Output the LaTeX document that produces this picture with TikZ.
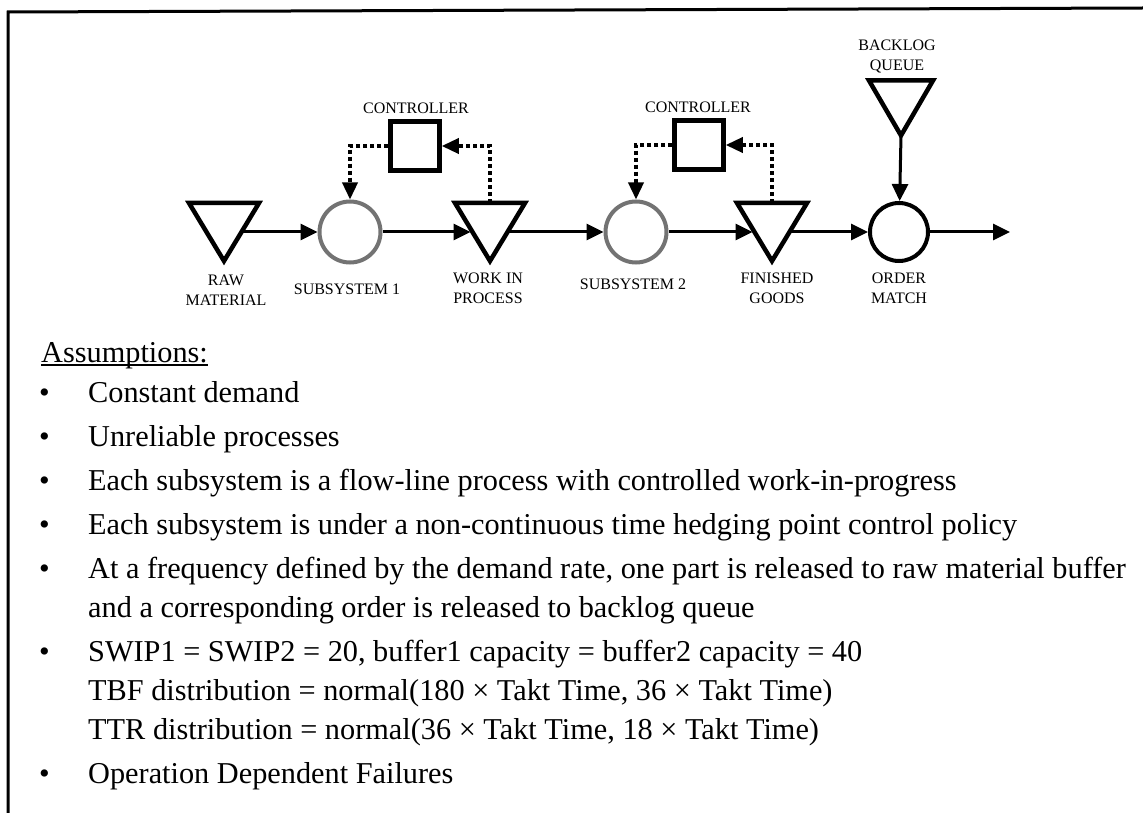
\documentclass[tikz,border=0pt]{standalone}
\usepackage{fontspec}
\setmainfont{Liberation Serif}
\usetikzlibrary{arrows.meta,calc}

\begin{document}
\begin{tikzpicture}[x=1pt,y=-1pt,
  buffer/.style={rectangle, minimum width=70pt, minimum height=58pt, inner sep=0pt, outer sep=0pt},
  tri/.style={line width=4.5pt, line join=miter},
  station/.style={circle, draw=black!55, line width=4pt, minimum size=61pt, inner sep=0pt},
  matcher/.style={circle, draw=black, line width=4pt, minimum size=58pt, inner sep=0pt},
  ctlbox/.style={rectangle, draw, line width=4.5pt, minimum size=49pt, inner sep=0pt},
  flow/.style={line width=3pt, -{Triangle[length=17pt,width=16pt]}},
  signal/.style={line width=3.5pt, dash pattern=on 4pt off 3pt, -{Triangle[length=17pt,width=15pt]}},
  tag/.style={font=\fontsize{16}{20}\selectfont, align=center, inner sep=0pt},
  body/.style={font=\fontsize{30.3}{36}\selectfont, anchor=base west, inner sep=0pt},
]
\useasboundingbox (0,0) rectangle (1143,813);

% frame
\draw[line width=3pt] (8,813) -- (8,12) -- (1143,8);

% buffers (downward triangles)
\node[buffer] (raw) at (224,232) {};
\node[buffer] (wip) at (490,232) {};
\node[buffer] (fg)  at (772,232) {};
\node[buffer, minimum width=64pt, minimum height=55pt] (bq) at (901,108) {};
\foreach \b in {raw,wip,fg,bq}
  \draw[tri] (\b.north west) -- (\b.north east) -- (\b.south) -- cycle;

% stations and controllers
\node[station] (sub1) at (350,232) {};
\node[station] (sub2) at (636,232) {};
\node[matcher] (om)   at (899,232) {};
\node[ctlbox]  (ctl1) at (415,146) {};
\node[ctlbox]  (ctl2) at (699,145) {};
\coordinate (out) at (1010,232);

% material flow
\draw[flow] ($(raw.north east)!.5!(raw.south)$) -- (sub1);
\draw[flow, shorten >=2pt] (sub1) -- ($(wip.north west)!.5!(wip.south)$);
\draw[flow] ($(wip.north east)!.5!(wip.south)$) -- (sub2);
\draw[flow, shorten >=2pt] (sub2) -- ($(fg.north west)!.5!(fg.south)$);
\draw[flow] ($(fg.north east)!.5!(fg.south)$) -- (om);
\draw[flow] (bq.south) -- (om);
\draw[flow] (om) -- (out);

% control signals
\draw[signal] (ctl1.west) -| (sub1.north);
\draw[signal] (wip.north) |- (ctl1.east);
\draw[signal] (ctl2.west) -| (sub2.north);
\draw[signal] (fg.north) |- (ctl2.east);

% labels
\node[tag] (lraw)  at (226,290) {RAW\\MATERIAL};
\node[tag] (lsub1) at (347,289) {SUBSYSTEM 1};
\node[tag] (lwip)  at (488,288) {WORK IN\\PROCESS};
\node[tag] (lsub2) at (633,284) {SUBSYSTEM 2};
\node[tag] (lfg)   at (777,288) {FINISHED\\GOODS};
\node[tag] (lom)   at (899,288) {ORDER\\MATCH};
\node[tag] (lctl1) at (416,108) {CONTROLLER};
\node[tag] (lctl2) at (698,107) {CONTROLLER};
\node[tag] (lbq)   at (897,57)  {BACKLOG\\QUEUE};

% assumptions
\node[body] (head) at (41,362) {\setbox0=\hbox{Assumptions:}\rlap{\rule[-3.5pt]{\wd0}{1.3pt}}\box0};
\foreach \y in {402,446,490,534,578,661,783}
  \node[body] at (39,\y) {\textbullet};
\node[body] (a1) at (88,402) {Constant demand};
\node[body] (a2) at (88,446) {Unreliable processes};
\node[body] (a3) at (88,490) {Each subsystem is a flow-line process with controlled work-in-progress};
\node[body] (a4) at (88,534) {Each subsystem is under a non-continuous time hedging point control policy};
\node[body] (a5) at (88,578) {At a frequency defined by the demand rate, one part is released to raw material buffer};
\node[body] (a5b) at (88,617) {and a corresponding order is released to backlog queue};
\node[body] (a6) at (88,661) {SWIP1 = SWIP2 = 20, buffer1 capacity = buffer2 capacity = 40};
\node[body] (a6b) at (88,700) {TBF distribution = normal(180 × Takt Time, 36 × Takt Time)};
\node[body] (a6c) at (88,739) {TTR distribution = normal(36 × Takt Time, 18 × Takt Time)};
\node[body] (a7) at (88,783) {Operation Dependent Failures};
\end{tikzpicture}
\end{document}
